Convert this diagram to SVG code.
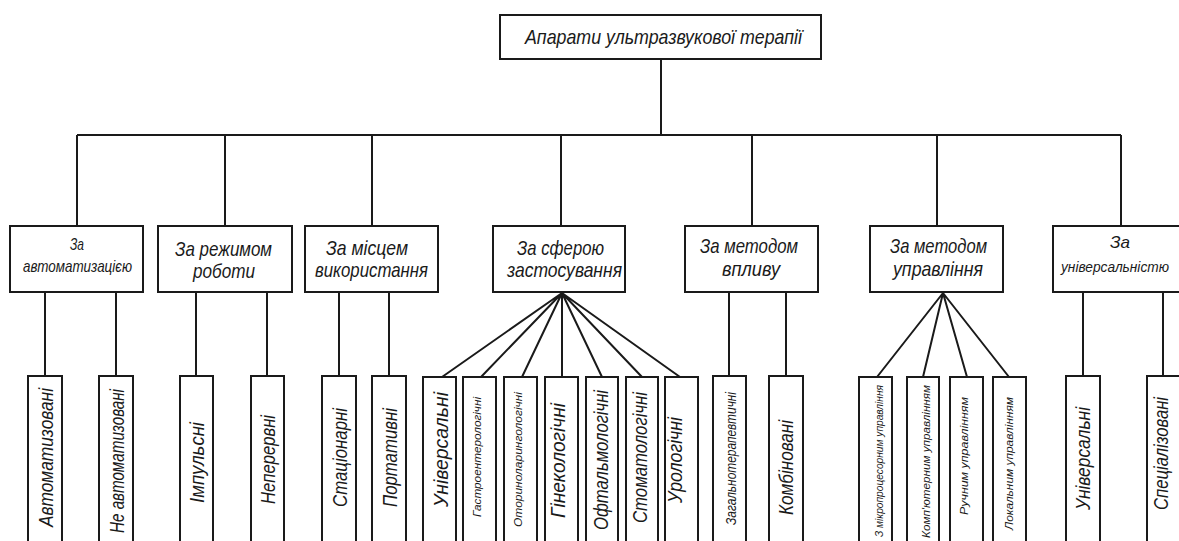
<svg xmlns="http://www.w3.org/2000/svg" width="1179" height="541" viewBox="0 0 1179 541">
  <style>
    .box { fill: #ffffff; stroke: #1a1a1a; stroke-width: 2; }
    .link { fill: none; stroke: #1a1a1a; stroke-width: 2; }
    text { font-family: "Liberation Sans", Arial, sans-serif; font-style: italic; fill: #1a1a1a; text-anchor: middle; }
    .t-root { font-size: 21px; }
    .t-cat { font-size: 21px; }
    .t-cat-s { font-size: 17px; }
    .t-cat-xs { font-size: 15px; }
    .t-leaf { font-size: 21px; }
    .t-leaf-m { font-size: 15px; }
    .t-leaf-s { font-size: 11px; }
  </style>
  <rect width="1179" height="541" fill="#ffffff"/>

  <!-- connectors -->
  <g id="connectors" class="link">
    <path d="M661 59 V135 M77 135 H1121"/>
    <path d="M77 135 V226 M225 135 V226 M372 135 V226 M561 135 V226 M752 135 V226 M937 135 V226 M1121 135 V226"/>
    <path d="M45 292 V376 M116 292 V376 M196 292 V376 M267 292 V376 M339 292 V376 M389 292 V376 M729 292 V376 M786 292 V376 M1083 292 V376 M1163 292 V376"/>
    <path d="M562 293 L442 377 M562 293 L481 377 M562 293 L522 377 M562 293 L562 377 M562 293 L602 377 M562 293 L642 377 M562 293 L680 377"/>
    <path d="M943 293 L877 377 M943 293 L923 377 M943 293 L967 377 M943 293 L1009 377"/>
  </g>

  <!-- root -->
  <g id="root">
    <rect class="box" x="500" y="15" width="321" height="44"/>
    <text class="t-root" x="663.5" y="44" textLength="277" lengthAdjust="spacingAndGlyphs">Апарати ультразвукової терапії</text>
  </g>

  <!-- classification criteria -->
  <g id="cat-automation">
    <rect class="box" x="10" y="226" width="133" height="66"/>
    <text class="t-cat-s" x="77" y="250" textLength="14" lengthAdjust="spacingAndGlyphs">За</text>
    <text class="t-cat-s" x="77.5" y="272" textLength="109" lengthAdjust="spacingAndGlyphs">автоматизацією</text>
  </g>
  <g id="cat-mode">
    <rect class="box" x="158" y="226" width="134" height="66"/>
    <text class="t-cat" x="223.5" y="256" textLength="97" lengthAdjust="spacingAndGlyphs">За режимом</text>
    <text class="t-cat" x="224" y="278" textLength="62" lengthAdjust="spacingAndGlyphs">роботи</text>
  </g>
  <g id="cat-place">
    <rect class="box" x="305" y="226" width="133" height="66"/>
    <text class="t-cat" x="367" y="255" textLength="82" lengthAdjust="spacingAndGlyphs">За місцем</text>
    <text class="t-cat" x="371.5" y="277" textLength="113" lengthAdjust="spacingAndGlyphs">використання</text>
  </g>
  <g id="cat-field">
    <rect class="box" x="493" y="226" width="132" height="66"/>
    <text class="t-cat" x="560.5" y="255" textLength="87" lengthAdjust="spacingAndGlyphs">За сферою</text>
    <text class="t-cat" x="564.5" y="277" textLength="115" lengthAdjust="spacingAndGlyphs">застосування</text>
  </g>
  <g id="cat-effect">
    <rect class="box" x="685" y="226" width="133" height="66"/>
    <text class="t-cat" x="749" y="253" textLength="98" lengthAdjust="spacingAndGlyphs">За методом</text>
    <text class="t-cat" x="751" y="276" textLength="58" lengthAdjust="spacingAndGlyphs">впливу</text>
  </g>
  <g id="cat-control">
    <rect class="box" x="870" y="226" width="133" height="66"/>
    <text class="t-cat" x="938.5" y="253" textLength="97" lengthAdjust="spacingAndGlyphs">За методом</text>
    <text class="t-cat" x="938" y="276" textLength="90" lengthAdjust="spacingAndGlyphs">управління</text>
  </g>
  <g id="cat-universality">
    <rect class="box" x="1053" y="226" width="133" height="66"/>
    <text class="t-cat-s" x="1120" y="248" textLength="20" lengthAdjust="spacingAndGlyphs">За</text>
    <text class="t-cat-xs" x="1115" y="272" textLength="108" lengthAdjust="spacingAndGlyphs">універсальністю</text>
  </g>

  <!-- leaf types (vertical labels) -->
  <g id="leaf-automated">
    <rect class="box" x="28" y="376" width="34" height="180"/>
    <text class="t-leaf" transform="translate(53 457.5) rotate(-90)" textLength="139" lengthAdjust="spacingAndGlyphs">Автоматизовані</text>
  </g>
  <g id="leaf-non-automated">
    <rect class="box" x="99" y="376" width="34" height="180"/>
    <text class="t-leaf" transform="translate(124 461) rotate(-90)" textLength="144" lengthAdjust="spacingAndGlyphs">Не автоматизовані</text>
  </g>
  <g id="leaf-pulsed">
    <rect class="box" x="180" y="376" width="33" height="180"/>
    <text class="t-leaf" transform="translate(204 462.5) rotate(-90)" textLength="81" lengthAdjust="spacingAndGlyphs">Імпульсні</text>
  </g>
  <g id="leaf-continuous">
    <rect class="box" x="251" y="376" width="33" height="180"/>
    <text class="t-leaf" transform="translate(275 459.5) rotate(-90)" textLength="89" lengthAdjust="spacingAndGlyphs">Неперервні</text>
  </g>
  <g id="leaf-stationary">
    <rect class="box" x="322" y="376" width="34" height="180"/>
    <text class="t-leaf" transform="translate(347 457.5) rotate(-90)" textLength="99" lengthAdjust="spacingAndGlyphs">Стаціонарні</text>
  </g>
  <g id="leaf-portable">
    <rect class="box" x="372" y="376" width="34" height="180"/>
    <text class="t-leaf" transform="translate(397 457.5) rotate(-90)" textLength="99" lengthAdjust="spacingAndGlyphs">Портативні</text>
  </g>

  <g id="leaf-universal-1">
    <rect class="box" x="423" y="377" width="33" height="180"/>
    <text class="t-leaf" transform="translate(448 449.5) rotate(-90)" textLength="115" lengthAdjust="spacingAndGlyphs">Універсальні</text>
  </g>
  <g id="leaf-gastro">
    <rect class="box" x="463" y="377" width="33" height="180"/>
    <text class="t-leaf-s" transform="translate(481 457) rotate(-90)" textLength="120" lengthAdjust="spacingAndGlyphs">Гастроентерологічні</text>
  </g>
  <g id="leaf-ent">
    <rect class="box" x="504" y="377" width="33" height="180"/>
    <text class="t-leaf-s" transform="translate(522 459.5) rotate(-90)" textLength="135" lengthAdjust="spacingAndGlyphs">Оториноларингологічні</text>
  </g>
  <g id="leaf-gyn">
    <rect class="box" x="545" y="377" width="33" height="180"/>
    <text class="t-leaf" transform="translate(565 460.5) rotate(-90)" textLength="115" lengthAdjust="spacingAndGlyphs">Гінекологічні</text>
  </g>
  <g id="leaf-ophth">
    <rect class="box" x="586" y="377" width="32" height="180"/>
    <text class="t-leaf" transform="translate(608 460) rotate(-90)" textLength="140" lengthAdjust="spacingAndGlyphs">Офтальмологічні</text>
  </g>
  <g id="leaf-dental">
    <rect class="box" x="626" y="377" width="32" height="180"/>
    <text class="t-leaf" transform="translate(647 457.5) rotate(-90)" textLength="131" lengthAdjust="spacingAndGlyphs">Стоматологічні</text>
  </g>
  <g id="leaf-uro">
    <rect class="box" x="665" y="377" width="33" height="180"/>
    <text class="t-leaf" transform="translate(682 460) rotate(-90)" textLength="86" lengthAdjust="spacingAndGlyphs">Урологічні</text>
  </g>

  <g id="leaf-general">
    <rect class="box" x="713" y="376" width="33" height="180"/>
    <text class="t-leaf-m" transform="translate(736 458.5) rotate(-90)" textLength="133" lengthAdjust="spacingAndGlyphs">Загальнотерапевтичні</text>
  </g>
  <g id="leaf-combined">
    <rect class="box" x="769" y="376" width="34" height="180"/>
    <text class="t-leaf" transform="translate(793 467.5) rotate(-90)" textLength="95" lengthAdjust="spacingAndGlyphs">Комбіновані</text>
  </g>

  <g id="leaf-micro">
    <rect class="box" x="859" y="377" width="33" height="180"/>
    <text class="t-leaf-s" transform="translate(883 461) rotate(-90)" textLength="152" lengthAdjust="spacingAndGlyphs">З мікропроцесорним управління</text>
  </g>
  <g id="leaf-computer">
    <rect class="box" x="907" y="377" width="32" height="180"/>
    <text class="t-leaf-s" transform="translate(930 461.5) rotate(-90)" textLength="153" lengthAdjust="spacingAndGlyphs">Комп'ютерним управлінням</text>
  </g>
  <g id="leaf-manual">
    <rect class="box" x="950" y="377" width="33" height="180"/>
    <text class="t-leaf-s" transform="translate(968 456) rotate(-90)" textLength="118" lengthAdjust="spacingAndGlyphs">Ручним управлінням</text>
  </g>
  <g id="leaf-local">
    <rect class="box" x="993" y="377" width="33" height="180"/>
    <text class="t-leaf-s" transform="translate(1013 463.5) rotate(-90)" textLength="133" lengthAdjust="spacingAndGlyphs">Локальним управлінням</text>
  </g>

  <g id="leaf-universal-2">
    <rect class="box" x="1066" y="376" width="34" height="180"/>
    <text class="t-leaf" transform="translate(1090 458.5) rotate(-90)" textLength="103" lengthAdjust="spacingAndGlyphs">Універсальні</text>
  </g>
  <g id="leaf-specialized">
    <rect class="box" x="1147" y="376" width="34" height="180"/>
    <text class="t-leaf" transform="translate(1168 453.5) rotate(-90)" textLength="113" lengthAdjust="spacingAndGlyphs">Спеціалізовані</text>
  </g>
</svg>
